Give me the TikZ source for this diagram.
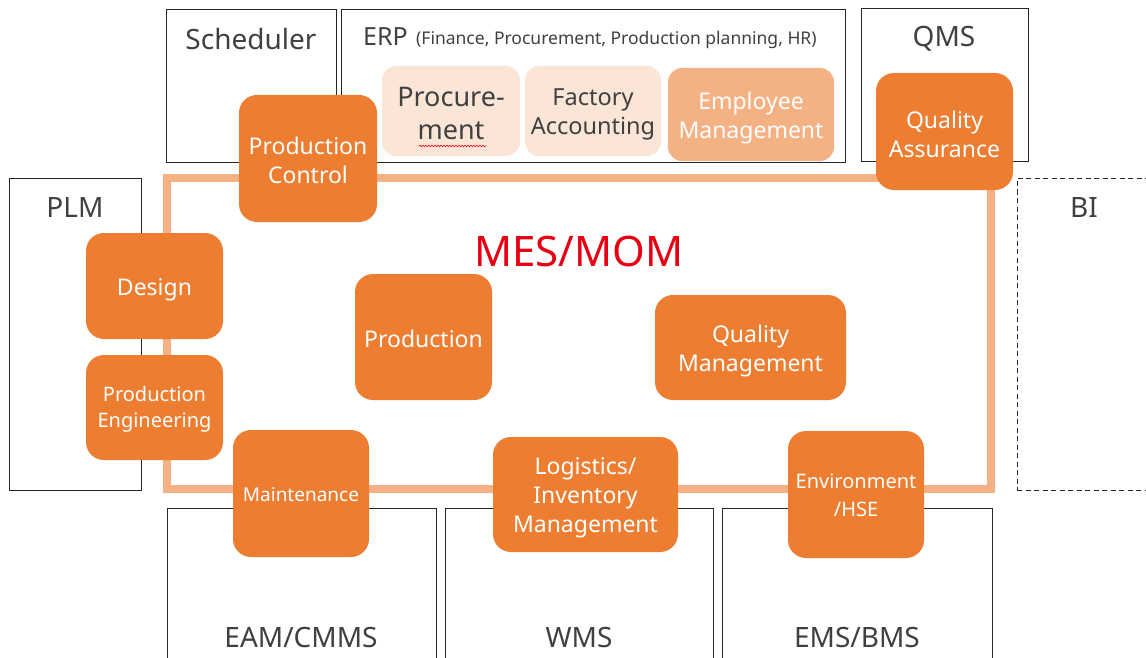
\documentclass[tikz,border=0pt]{standalone}
\usepackage{fontspec}
\setmainfont{Noto Sans}
\usetikzlibrary{decorations.pathmorphing}
\definecolor{org}{HTML}{ED7D31}
\definecolor{lorg}{HTML}{F4B183}
\definecolor{vlorg}{HTML}{FBE5D6}
\definecolor{txtgray}{HTML}{404040}
\definecolor{mesred}{HTML}{E60012}
\begin{document}
\begin{tikzpicture}[x=1pt,y=-1pt,
  sysbox/.style={draw=black!85, line width=1pt, inner sep=0, fill=none},
  syslabel/.style={text=txtgray, font=\fontsize{28}{34}\selectfont, inner sep=0},
  modbox/.style={fill=org, rounded corners=18pt, inner sep=0},
  modtxt/.style={text=white, align=center, inner sep=0, font=\fontsize{23}{29}\selectfont},
  subbox/.style={rounded corners=14pt, inner sep=0},
  subtxt/.style={align=center, inner sep=0}]
\useasboundingbox (0,0) rectangle (1146,658);
\clip (0,0) rectangle (1146,658);

% surrounding systems
\node[sysbox, minimum width=170, minimum height=153] (sched) at (251,86.5) {};
\node[syslabel] (schedlbl) at (251,39) {Scheduler};
\node[sysbox, minimum width=504, minimum height=153] (erp) at (593,86.5) {};
\node[syslabel, anchor=west, font=\fontsize{25}{30}\selectfont] (erplbl) at (363,37) {ERP};
\node[anchor=west, inner sep=0, text=txtgray, font=\fontsize{17.5}{21}\selectfont] (erpdesc) at (416,39.5) {(Finance, Procurement, Production planning, HR)};
\node[sysbox, minimum width=167, minimum height=153] (qms) at (944.5,85.5) {};
\node[syslabel] (qmslbl) at (944,38.5) {QMS};
\node[sysbox, minimum width=132, minimum height=312] (plm) at (75,334) {};
\node[syslabel] (plmlbl) at (75,208) {PLM};
\node[sysbox, draw=black!85, dash pattern=on 5pt off 3.5pt, minimum width=140, minimum height=312] (bi) at (1087,334) {};
\node[syslabel] (bilbl) at (1084,208) {BI};
\node[sysbox, minimum width=269, minimum height=170] (eam) at (301.5,593) {};
\node[syslabel] (eamlbl) at (301,637) {EAM/CMMS};
\node[sysbox, minimum width=268, minimum height=170] (wms) at (579,593) {};
\node[syslabel] (wmslbl) at (579,637) {WMS};
\node[sysbox, minimum width=270, minimum height=170] (ems) at (857,593) {};
\node[syslabel] (emslbl) at (857,637) {EMS/BMS};

% MES/MOM frame
\node[draw=lorg, line width=8pt, minimum width=824, minimum height=311, inner sep=0] (mes) at (579,333.5) {};
\node[text=mesred, inner sep=0, font=\fontsize{42}{50}\selectfont] (meslbl) at (579,251) {MES/MOM};

% ERP sub-modules
\node[subbox, fill=vlorg, minimum width=138, minimum height=90] (proc) at (451,111) {};
\node[subtxt, text=txtgray, font=\fontsize{27}{33}\selectfont] (proct) at ([yshift=-2.5pt]proc.center) {Procure-\\ment};
\draw[mesred, line width=0.6pt, decorate, decoration={snake, segment length=3pt, amplitude=0.8pt}] (419,146) -- (486,146);
\node[subbox, fill=vlorg, minimum width=136, minimum height=90] (fa) at (593,111) {};
\node[subtxt, text=txtgray, font=\fontsize{23.5}{29}\selectfont] (fat) at ([yshift=-3.5pt]fa.center) {Factory\\Accounting};
\node[subbox, fill=lorg, minimum width=166, minimum height=93] (em) at (751,114.5) {};
\node[subtxt, text=white, font=\fontsize{23}{29}\selectfont] (emt) at ([yshift=-3.5pt]em.center) {Employee\\Management};

% MES modules
\node[modbox, minimum width=138, minimum height=127] (pc) at (308,158.5) {};
\node[modtxt] (pct) at ([yshift=-2pt]pc.center) {Production\\Control};
\node[modbox, minimum width=137, minimum height=117] (qa) at (944.5,131.5) {};
\node[modtxt] (qat) at ([yshift=-2.5pt]qa.center) {Quality\\Assurance};
\node[modbox, minimum width=137, minimum height=106] (design) at (154.5,286) {};
\node[modtxt] (designt) at ([yshift=-4pt]design.center) {Design};
\node[modbox, minimum width=137, minimum height=105] (pe) at (154.5,407.5) {};
\node[modtxt, font=\fontsize{20}{26}\selectfont] (pet) at ([yshift=-2pt]pe.center) {Production\\Engineering};
\node[modbox, minimum width=137, minimum height=126] (prod) at (423.5,337) {};
\node[modtxt] (prodt) at ([yshift=-1.5pt]prod.center) {Production};
\node[modbox, minimum width=191, minimum height=105] (qm) at (750.5,347.5) {};
\node[modtxt] (qmt) at ([yshift=-3.5pt]qm.center) {Quality\\Management};
\node[modbox, minimum width=136, minimum height=127] (maint) at (301,493.5) {};
\node[modtxt, font=\fontsize{19}{24}\selectfont] (maintt) at ([yshift=-1pt]maint.center) {Maintenance};
\node[modbox, minimum width=185, minimum height=115] (log) at (585.5,494.5) {};
\node[modtxt] (logt) at ([yshift=-3pt]log.center) {Logistics/\\Inventory\\Management};
\node[modbox, minimum width=136, minimum height=127] (env) at (856,494.5) {};
\node[modtxt, font=\fontsize{20}{28}\selectfont] (envt) at ([yshift=-1pt]env.center) {Environment\\/HSE};
\end{tikzpicture}
\end{document}
